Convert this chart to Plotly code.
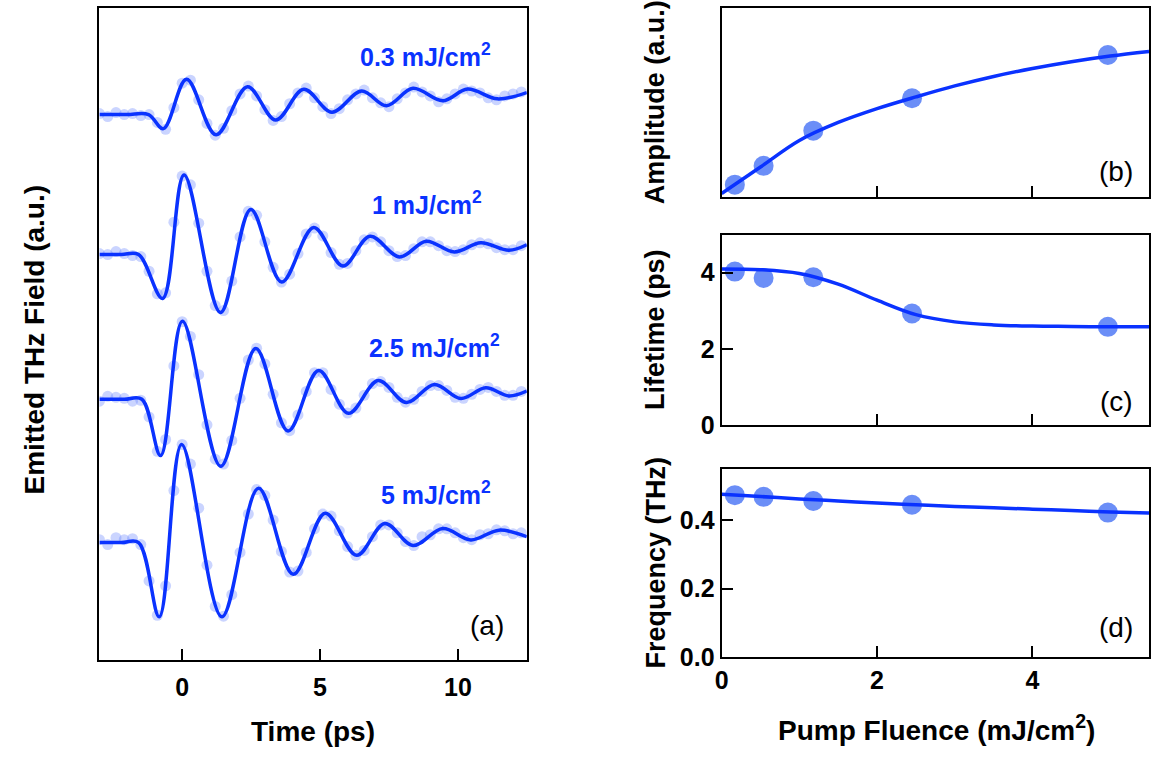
import plotly.graph_objects as go

# ---------------- data: panel (a) ----------------
time_dots = [-3.0, -2.7, -2.4, -2.1, -1.8, -1.5, -1.2, -0.9, -0.6, -0.3,
             0.0, 0.3, 0.6, 0.9, 1.2, 1.5, 1.8, 2.1, 2.4, 2.7,
             3.0, 3.3, 3.6, 3.9, 4.2, 4.5, 4.8, 5.1, 5.4, 5.7,
             6.0, 6.3, 6.6, 6.9, 7.2, 7.5, 7.8, 8.1, 8.4, 8.7,
             9.0, 9.3, 9.6, 9.9, 10.2, 10.5, 10.8, 11.1, 11.4, 11.7,
             12.0, 12.3]

dots_03 = [1, -2, 2, 0, 1, -1, 0, -8, -15, 7,
           32, 35, 15, -9, -21, -14, 4, 21, 29, 19,
           5, -6, -2, 11, 22, 27, 17, 8, 1, 6,
           15, 21, 25, 17, 12, 8, 16, 22, 28, 23,
           19, 13, 16, 21, 26, 24, 22, 17, 15, 19,
           21, 23]
dots_1 = [1, 0, 3, 1, -1, -2, -17, -40, -39, 33,
          80, 71, 32, -17, -52, -57, -27, 18, 44, 40,
          13, -13, -28, -20, 1, 21, 27, 19, 2, -10,
          -9, 4, 15, 18, 13, 4, -2, -1, 6, 13,
          13, 9, 4, 3, 5, 10, 12, 11, 7, 5,
          5, 9]
dots_25 = [-2, 3, 2, 1, -2, -1, -18, -53, -41, 34,
           79, 64, 25, -26, -61, -66, -42, 1, 40, 52,
           36, 5, -24, -32, -16, 8, 27, 27, 10, -5,
           -14, -9, 4, 16, 18, 12, 2, -3, 0, 8,
           14, 14, 9, 2, 1, 5, 10, 12, 8, 4,
           4, 8]
dots_5 = [3, -2, 5, 3, 4, -2, -39, -74, -44, 53,
          100, 80, 35, -23, -65, -75, -53, -10, 29, 54,
          48, 23, -9, -30, -29, -10, 14, 29, 27, 12,
          -4, -13, -8, 6, 18, 18, 10, 1, -3, 6,
          8, 14, 14, 10, 5, 3, 8, 9, 13, 12,
          9, 10]

fit_t_03 = [-3.0, -2.0, -1.22, -0.68, 0.16, 1.23, 2.37, 3.39, 4.41, 5.43, 6.51, 7.41, 8.37, 9.45, 10.35, 11.43, 12.5]
fit_v_03 = [0, 0, 0, -14.3, 36, -20.6, 28.4, -5.6, 25.7, 2.4, 24, 9, 26.7, 14, 26, 16, 22.4]
fit_t_1 = [-3.0, -2.2, -1.58, -0.71, 0.07, 1.39, 2.49, 3.61, 4.77, 5.83, 6.81, 7.89, 8.85, 9.87, 10.83, 11.85, 12.5]
fit_v_1 = [0, 0, 0, -44.7, 81, -59, 46, -28, 27.6, -11.7, 18.6, -2.4, 13.6, 2.6, 12, 4.3, 10]
fit_t_25 = [-3.0, -2.1, -1.46, -0.78, 0.01, 1.40, 2.67, 3.84, 4.95, 6.03, 7.11, 8.13, 9.15, 10.11, 11.01, 11.85, 12.5]
fit_v_25 = [0, 0, 0, -57.3, 79.4, -68.3, 51.7, -32.3, 29.4, -14.3, 19, -3.3, 15, 0.7, 11.7, 3.4, 8.4]
fit_t_5 = [-3.0, -2.2, -1.58, -0.83, -0.02, 1.44, 2.77, 4.03, 5.19, 6.33, 7.35, 8.37, 9.45, 10.47, 11.49, 12.5]
fit_v_5 = [0, 0, 0, -75.6, 100, -75.6, 55.4, -32.3, 30, -13, 19.4, -3, 14.4, 2.7, 12.7, 6]

trace_offsets = [555.3, 412.7, 265.3, 119.3]
trace_labels = ["0.3 mJ/cm<sup>2</sup>", "1 mJ/cm<sup>2</sup>", "2.5 mJ/cm<sup>2</sup>", "5 mJ/cm<sup>2</sup>"]

# ---------------- data: panels (b)-(d) ----------------
fluence = [0.17, 0.54, 1.18, 2.45, 4.97]
amplitude = [0.067, 0.166, 0.352, 0.523, 0.751]
lifetime = [4.03, 3.86, 3.88, 2.93, 2.58]
frequency = [0.474, 0.469, 0.457, 0.446, 0.423]

fit_fluence = [0, 0.5, 1, 1.5, 2, 2.5, 3, 3.5, 4, 4.5, 5, 5.5]
fit_amplitude = [0.02, 0.16, 0.30, 0.395, 0.468, 0.53, 0.588, 0.638, 0.68, 0.716, 0.746, 0.77]
fit_lifetime = [4.1, 4.08, 3.98, 3.7, 3.28, 2.9, 2.71, 2.63, 2.6, 2.59, 2.58, 2.58]
fit_frequency = [0.477, 0.470, 0.463, 0.457, 0.451, 0.446, 0.441, 0.437, 0.433, 0.429, 0.425, 0.422]

# ---------------- styling ----------------
W, H = 1154, 766
LINE = "#0a32ff"
DOT_A = "rgba(95,125,255,0.33)"
DOT_R = "#6b8ef7"
FONT = "Liberation Sans, Arial, sans-serif"


def px_x(p):
    return p / W


def px_y(p):
    return 1 - p / H


fig = go.Figure()

dot_sets = [dots_03, dots_1, dots_25, dots_5]
fit_sets = [(fit_t_03, fit_v_03), (fit_t_1, fit_v_1), (fit_t_25, fit_v_25), (fit_t_5, fit_v_5)]
for off, dots, (ft, fv) in zip(trace_offsets, dot_sets, fit_sets):
    fig.add_trace(go.Scatter(x=time_dots, y=[off + v for v in dots], mode="markers",
                             marker=dict(size=11, color=DOT_A, line=dict(width=0)),
                             xaxis="x", yaxis="y", showlegend=False))
    fig.add_trace(go.Scatter(x=ft, y=[off + v for v in fv], mode="lines",
                             line=dict(color=LINE, width=3.5, shape="spline", smoothing=1.0),
                             xaxis="x", yaxis="y", showlegend=False))

for ax, yv, fy in [("2", amplitude, fit_amplitude), ("3", lifetime, fit_lifetime), ("4", frequency, fit_frequency)]:
    fig.add_trace(go.Scatter(x=fluence, y=yv, mode="markers",
                             marker=dict(size=20, color=DOT_R, line=dict(width=0)),
                             xaxis="x" + ax, yaxis="y" + ax, showlegend=False))
    fig.add_trace(go.Scatter(x=fit_fluence, y=fy, mode="lines",
                             line=dict(color=LINE, width=3.5, shape="spline", smoothing=1.0),
                             xaxis="x" + ax, yaxis="y" + ax, showlegend=False))

axis_common = dict(showline=True, linewidth=2, linecolor="black", mirror=True,
                   showgrid=False, zeroline=False, ticks="inside", ticklen=11, tickwidth=2,
                   tickcolor="black",
                   tickfont=dict(family=FONT, size=25, color="black", weight="bold"))

left_dom = [px_x(93), px_x(523)]
right_dom = [px_x(719), px_x(1149)]

fig.update_layout(
    width=W, height=H, margin=dict(l=0, r=0, t=0, b=0, pad=0),
    paper_bgcolor="white", plot_bgcolor="white",
    xaxis=dict(axis_common, domain=left_dom, range=[-3, 12.5], tickvals=[0, 5, 10], anchor="y",
               ticklabelstandoff=4),
    yaxis=dict(axis_common, domain=[px_y(672), px_y(8)], range=[0, 664], ticks="",
               showticklabels=False, anchor="x"),
    xaxis2=dict(axis_common, domain=right_dom, range=[0, 5.5], tickvals=[0, 2, 4],
                showticklabels=False, anchor="y2"),
    yaxis2=dict(axis_common, domain=[px_y(201), px_y(8)], range=[0, 1], ticks="",
                showticklabels=False, anchor="x2"),
    xaxis3=dict(axis_common, domain=right_dom, range=[0, 5.5], tickvals=[0, 2, 4],
                showticklabels=False, anchor="y3"),
    yaxis3=dict(axis_common, domain=[px_y(433), px_y(239)], range=[0, 5], tickvals=[0, 2, 4],
                anchor="x3"),
    xaxis4=dict(axis_common, domain=right_dom, range=[0, 5.5], tickvals=[0, 2, 4],
                anchor="y4"),
    yaxis4=dict(axis_common, domain=[px_y(669), px_y(478)], range=[0, 0.55],
                tickvals=[0, 0.2, 0.4], ticktext=["0.0", "0.2", "0.4"], anchor="x4"),
)

annotations = []


def note(text, x, y, size=28, bold=True, color="black", angle=0):
    annotations.append(dict(text=("<b>%s</b>" % text) if bold else text,
                            x=px_x(x), y=px_y(y), xref="paper", yref="paper",
                            xanchor="center", yanchor="middle", showarrow=False,
                            textangle=angle,
                            font=dict(family=FONT, size=size, color=color)))


label_pos = [(421, 56), (423, 207), (430, 352), (432, 502)]
for txt, (lx, ly) in zip(trace_labels, label_pos):
    note(txt, lx, ly, size=25, color=LINE)

note("(a)", 483, 637, size=28, bold=False)
note("(b)", 1116, 175, size=28, bold=False)
note("(c)", 1116, 409, size=28, bold=False)
note("(d)", 1116, 639, size=28, bold=False)

note("Time (ps)", 308, 745)
note("Pump Fluence (mJ/cm<sup>2</sup>)", 935, 742)
note("Emitted THz Field (a.u.)", 28, 346, angle=-90)
note("Amplitude (a.u.)", 652, 104, size=27, angle=-90)
note("Lifetime (ps)", 652, 336, size=27, angle=-90)
note("Frequency (THz)", 652, 573, size=27, angle=-90)

fig.update_layout(annotations=annotations)

fig.write_html("out.html")
